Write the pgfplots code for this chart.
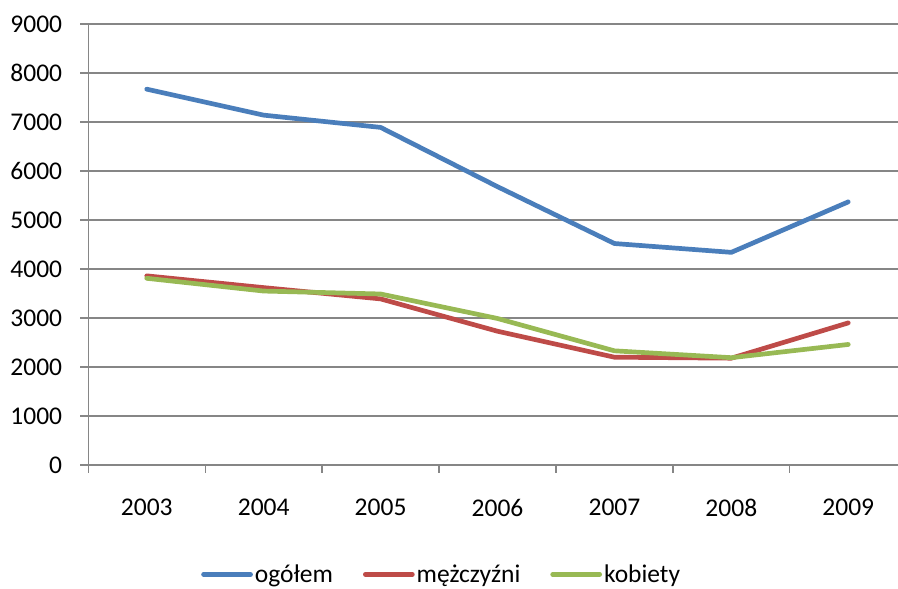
\documentclass[border=0pt]{standalone}
\usepackage{fontspec}
\setmainfont{Carlito}
\usepackage{pgfplots}
\pgfplotsset{compat=1.18}
\definecolor{cBlue}{HTML}{4A7EBB}
\definecolor{cRed}{HTML}{BE4B48}
\definecolor{cGreen}{HTML}{98B954}
\definecolor{cGrid}{HTML}{868686}

\begin{document}
\begin{tikzpicture}
\begin{axis}[name=ax, at={(0pt,0pt)}, anchor=south west,
    scale only axis, width=809.7pt, height=441pt,
    xmin=-0.5, xmax=6.4255, ymin=0, ymax=9000,
    axis x line*=bottom, axis y line*=left,
    axis line style={cGrid, line width=1.3pt},
    tick align=outside, major tick length=8pt,
    tick style={cGrid, line width=1.3pt},
    ymajorgrids, grid style={cGrid, line width=1.3pt},
    ytick={0,1000,...,9000},
    xtick={-0.5,0.5,1.5,2.5,3.5,4.5,5.5}, xticklabels={},
    extra x ticks={0,1,2,3,4,5,6},
    extra x tick labels={2003,2004,2005,2006,2007,2008,2009},
    extra x tick style={major tick length=0pt,
        xticklabel style={anchor=north, inner sep=0pt, yshift=-33.7pt}},
    yticklabel style={anchor=east, inner sep=0pt, xshift=-18pt},
    /pgf/number format/1000 sep={},
    /pgf/number format/assume math mode=true,
    tick label style={font=\fontsize{25.5}{30}\selectfont, text=black},
    legend columns=3,
    legend style={at={(0.4364,-0.248)}, anchor=center, draw=none, fill=none,
        font=\fontsize{25.5}{30}\selectfont,
        /tikz/every even column/.append style={column sep=28pt}},
    legend image code/.code={\draw[#1] (2pt,0pt) -- (49pt,0pt);},
    every axis plot/.append style={line width=4.7pt, line cap=round, line join=round},
]
\addplot[cBlue] coordinates {(0,7670) (1,7140) (2,6890) (3,5680) (4,4520) (5,4340) (6,5370)};
\addlegendentry{ogółem}
\addplot[cRed] coordinates {(0,3860) (1,3620) (2,3390) (3,2730) (4,2200) (5,2180) (6,2900)};
\addlegendentry{mężczyźni}
\addplot[cGreen] coordinates {(0,3810) (1,3550) (2,3490) (3,2990) (4,2330) (5,2190) (6,2460)};
\addlegendentry{kobiety}
\end{axis}
\pgfresetboundingbox
\path (ax.south west) ++(-88.3pt,-124pt) rectangle ++(898pt,589pt);
\end{tikzpicture}
\end{document}
